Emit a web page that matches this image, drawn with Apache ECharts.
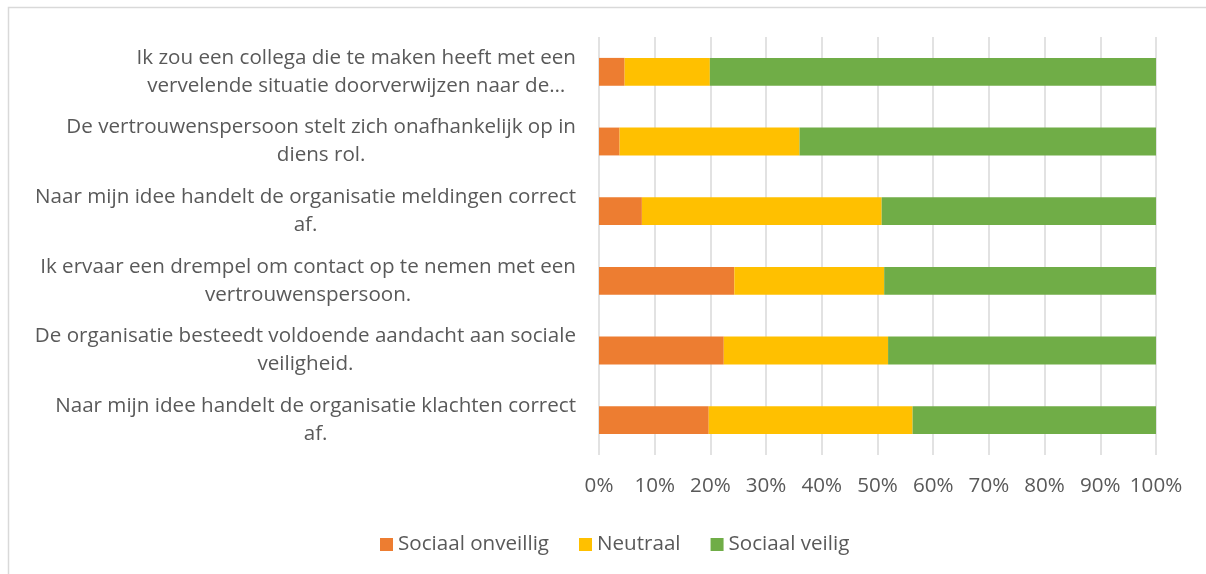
<!DOCTYPE html>
<html>
<head>
<meta charset="utf-8">
<style>
  html, body { margin: 0; padding: 0; background: #fff; }
  #chart { width: 1206px; height: 574px; }
</style>
<script src="https://cdn.jsdelivr.net/npm/echarts@6/dist/echarts.min.js"></script>
</head>
<body>
<div id="chart"></div>
<script>
// statements, top to bottom as in the picture
const categories = [
  'Ik zou een collega die te maken heeft met een\nvervelende situatie doorverwijzen naar de…',
  'De vertrouwenspersoon stelt zich onafhankelijk op in\ndiens rol.',
  'Naar mijn idee handelt de organisatie meldingen correct\naf.',
  'Ik ervaar een drempel om contact op te nemen met een\nvertrouwenspersoon.',
  'De organisatie besteedt voldoende aandacht aan sociale\nveiligheid.',
  'Naar mijn idee handelt de organisatie klachten correct\naf.',
];
const onveilig = [4.6, 3.7, 7.7, 24.3, 22.4, 19.7];
const neutraal = [15.3, 32.3, 43.05, 26.9, 29.5, 36.6];
const veilig = [80.1, 64.0, 49.25, 48.8, 48.1, 43.7];
const seriesNames = ['Sociaal onveillig', 'Neutraal', 'Sociaal veilig'];
const colors = ['#ED7D31', '#FFC000', '#70AD47'];

const textColor = '#595959';
const font = 'Open Sans';
const fontSize = 20.6;

const chart = echarts.init(document.getElementById('chart'));

function bar(name, data, color) {
  return {
    name: name,
    type: 'bar',
    stack: 'total',
    barWidth: '40%',
    data: data,
    itemStyle: { color: color },
  };
}

chart.setOption({
  animation: false,
  color: colors,
  textStyle: { fontFamily: font },
  graphic: [
    {
      type: 'polyline',
      shape: { points: [[8.5, 580], [8.5, 7.5], [1210, 7.5]] },
      style: { fill: 'none', stroke: '#d9d9d9', lineWidth: 1.5 },
      silent: true,
    },
  ],
  grid: { top: 37, bottom: 119, left: 599, right: 50 },
  legend: {
    left: 375,
    top: 529,
    icon: 'rect',
    itemWidth: 13,
    itemHeight: 13,
    itemGap: 30,
    textStyle: { color: textColor, fontSize: fontSize, fontFamily: font },
    data: seriesNames,
  },
  xAxis: {
    type: 'value',
    min: 0,
    max: 100,
    interval: 10,
    axisLine: { show: false },
    axisTick: { show: false },
    axisLabel: {
      color: textColor,
      fontSize: fontSize,
      fontFamily: font,
      margin: 21,
      formatter: '{value}%',
    },
    splitLine: { lineStyle: { color: '#d9d9d9', width: 1.5 } },
  },
  yAxis: {
    type: 'category',
    inverse: true,
    data: categories,
    axisLine: { show: false },
    axisTick: { show: false },
    axisLabel: {
      margin: 23,
      formatter: (v) => v.split('\n').map((l) => '{c|' + l + '}').join('\n'),
      rich: {
        c: {
          align: 'center',
          color: textColor,
          fontSize: fontSize,
          fontFamily: font,
          lineHeight: 28,
        },
      },
    },
  },
  series: [
    bar(seriesNames[0], onveilig, colors[0]),
    bar(seriesNames[1], neutraal, colors[1]),
    bar(seriesNames[2], veilig, colors[2]),
  ],
});

window.addEventListener('resize', () => chart.resize());
</script>
</body>
</html>
